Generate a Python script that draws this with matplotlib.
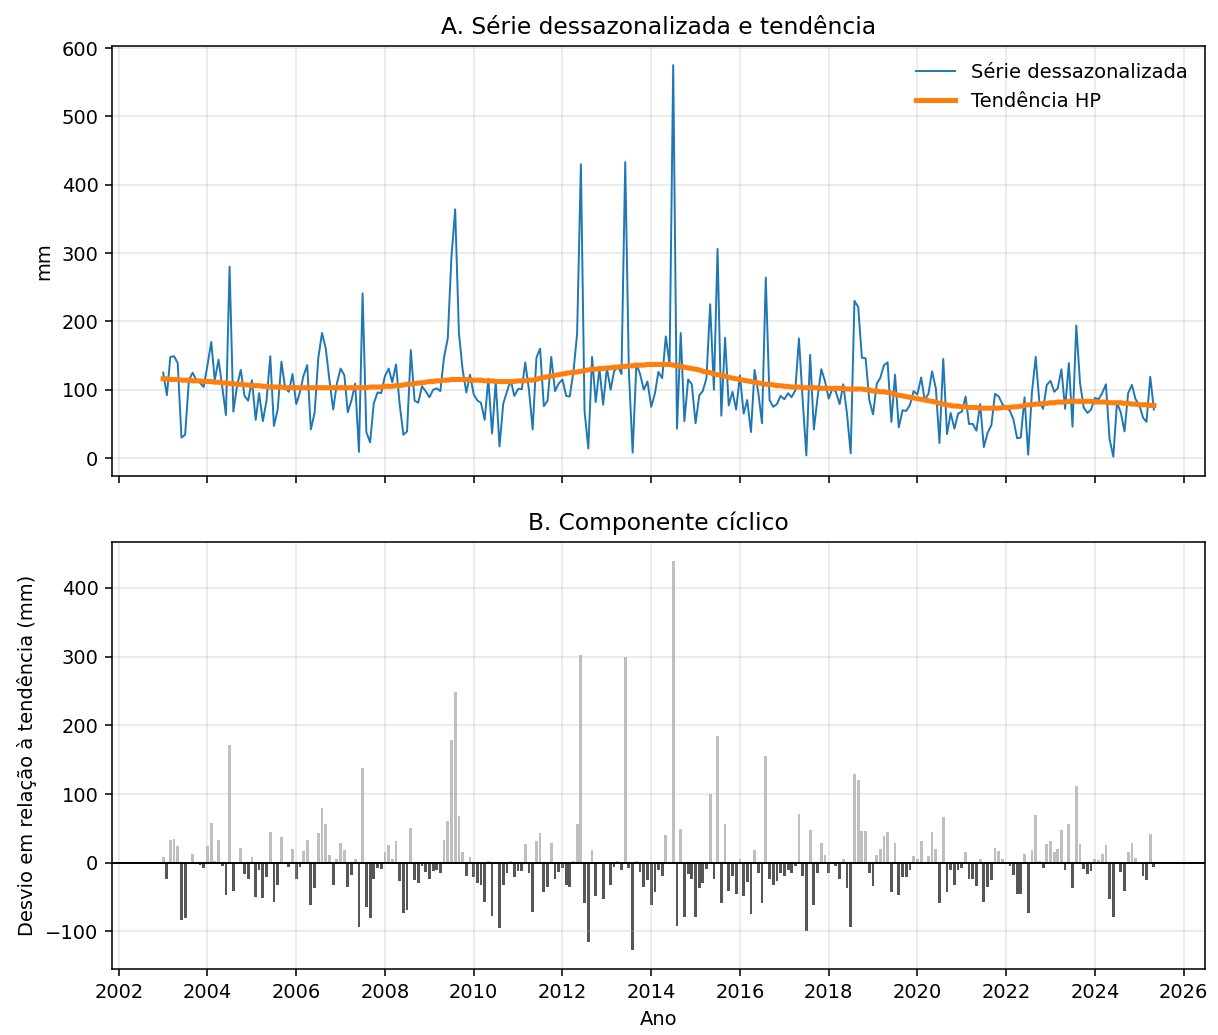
import numpy as np
import pandas as pd
import matplotlib
matplotlib.use('Agg')
import matplotlib.pyplot as plt
import matplotlib.dates as mdates

# monthly precipitation (mm), seasonally adjusted, Jan 2003 .. May 2025
start_month = '2003-01-01'

serie_dessaz = [
    125, 92, 148, 149, 139, 30, 34, 114, 125, 114, 110, 104,
    136, 170, 114, 144, 105, 63, 280, 68, 106, 129, 91, 84,
    114, 56, 95, 54, 84, 149, 47, 71, 141, 103, 97, 123,
    79, 97, 120, 136, 42, 66, 146, 183, 160, 114, 71, 109,
    131, 121, 67, 85, 109, 9, 241, 38, 23, 80, 96, 95,
    120, 131, 111, 137, 79, 34, 39, 158, 84, 81, 105, 98,
    89, 100, 102, 98, 147, 175, 293, 364, 183, 130, 96, 122,
    93, 84, 81, 56, 116, 36, 112, 17, 80, 97, 114, 91,
    101, 101, 140, 99, 42, 147, 160, 76, 84, 148, 98, 109,
    115, 91, 90, 127, 182, 430, 69, 14, 148, 82, 131, 78,
    132, 100, 127, 135, 123, 433, 127, 8, 138, 123, 100, 112,
    75, 95, 126, 117, 178, 137, 575, 43, 183, 54, 115, 108,
    51, 92, 98, 117, 225, 100, 306, 62, 176, 77, 97, 71,
    121, 65, 85, 38, 129, 95, 51, 264, 85, 75, 79, 91,
    86, 95, 89, 99, 175, 84, 4, 151, 42, 88, 130, 113,
    87, 102, 97, 79, 108, 64, 7, 230, 221, 147, 146, 85,
    64, 109, 117, 136, 140, 53, 122, 45, 70, 69, 78, 98,
    93, 118, 85, 94, 127, 102, 22, 145, 35, 66, 43, 65,
    68, 90, 50, 50, 40, 79, 16, 37, 48, 94, 90, 79,
    74, 69, 57, 29, 30, 89, 5, 96, 148, 82, 72, 107,
    113, 97, 102, 130, 72, 139, 46, 194, 110, 74, 66, 71,
    88, 86, 95, 108, 28, 2, 81, 67, 39, 95, 107, 86,
    78, 59, 53, 119, 71,
]

tendencia_hp = [
    116, 116, 115, 115, 115, 114, 114, 114, 113, 113, 113, 112,
    112, 112, 111, 111, 110, 110, 109, 109, 108, 108, 107, 107,
    106, 106, 106, 105, 105, 104, 104, 104, 104, 103, 103, 103,
    103, 103, 103, 103, 103, 103, 103, 103, 103, 103, 103, 103,
    103, 103, 103, 103, 103, 103, 103, 103, 104, 104, 104, 104,
    105, 105, 105, 106, 106, 107, 108, 108, 109, 110, 110, 111,
    112, 112, 113, 113, 114, 114, 115, 115, 115, 115, 115, 114,
    114, 114, 114, 113, 113, 113, 112, 112, 112, 112, 112, 112,
    113, 113, 113, 114, 114, 115, 117, 118, 119, 120, 121, 122,
    123, 124, 125, 125, 126, 127, 128, 129, 130, 130, 131, 131,
    132, 132, 133, 133, 134, 134, 135, 135, 136, 136, 136, 137,
    137, 137, 137, 137, 137, 137, 136, 135, 134, 133, 132, 131,
    130, 129, 127, 126, 125, 123, 122, 121, 120, 118, 117, 116,
    115, 114, 113, 112, 111, 110, 109, 108, 108, 107, 106, 106,
    105, 105, 104, 104, 104, 103, 103, 103, 103, 103, 102, 102,
    102, 102, 102, 102, 102, 101, 101, 101, 101, 101, 100, 100,
    98, 98, 97, 97, 96, 95, 93, 92, 91, 90, 89, 88,
    87, 86, 85, 84, 83, 82, 80, 79, 78, 77, 76, 76,
    75, 75, 74, 74, 74, 73, 73, 73, 73, 73, 73, 74,
    74, 74, 75, 75, 76, 77, 78, 78, 79, 79, 80, 80,
    81, 81, 82, 82, 82, 83, 83, 83, 83, 83, 83, 83,
    82, 82, 82, 82, 81, 81, 81, 81, 80, 80, 79, 79,
    78, 78, 78, 77, 77,
]

datas = pd.date_range(start_month, periods=len(serie_dessaz), freq='MS')
serie = np.array(serie_dessaz, dtype=float)
tend = np.array(tendencia_hp, dtype=float)
ciclo = serie - tend

fig, (ax1, ax2) = plt.subplots(2, 1, sharex=True, figsize=(8.7, 7.393), dpi=140)
ax1.set_position([0.092, 0.5398, 0.8973, 0.4162])
ax2.set_position([0.092, 0.0634, 0.8973, 0.4132])

# A - series and trend
ax1.plot(datas, serie, color='tab:blue', lw=1.0, label='Série dessazonalizada')
ax1.plot(datas, tend, color='tab:orange', lw=2.6, label='Tendência HP')
ax1.set_title('A. Série dessazonalizada e tendência')
ax1.set_ylabel('mm')
ax1.grid(True, alpha=0.3)
ax1.legend(loc='upper right', frameon=False)

# B - cyclical component
cores = ['#bfbfbf' if v >= 0 else '#565656' for v in ciclo]
ax2.bar(datas, ciclo, width=23, color=cores)
ax2.axhline(0, color='black', lw=1.0)
ax2.set_title('B. Componente cíclico')
ax2.set_ylabel('Desvio em relação à tendência (mm)')
ax2.set_xlabel('Ano')
ax2.grid(True, alpha=0.3)

ax2.xaxis.set_major_locator(mdates.YearLocator(2))
ax2.xaxis.set_major_formatter(mdates.DateFormatter('%Y'))

fig.savefig('out.png', dpi=140)
